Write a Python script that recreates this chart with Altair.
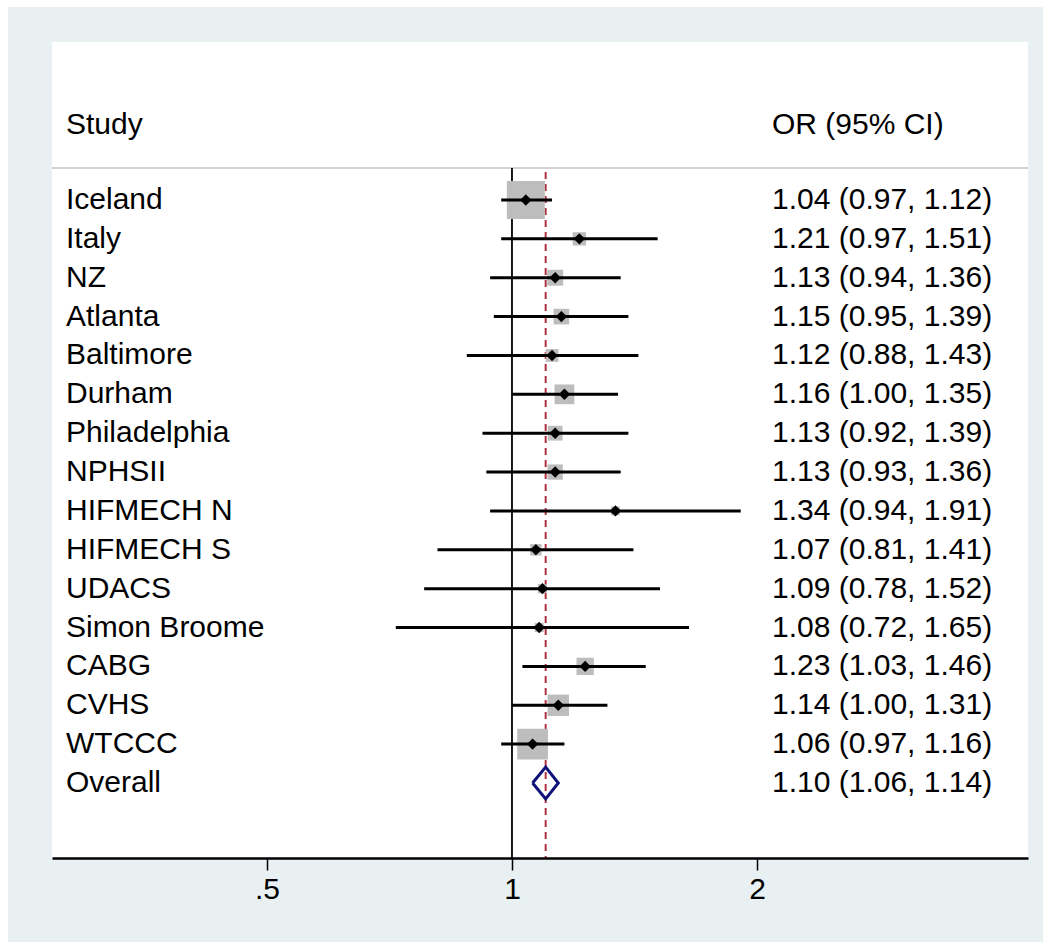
import altair as alt
import pandas as pd

studies = ["Iceland", "Italy", "NZ", "Atlanta", "Baltimore", "Durham", "Philadelphia",
           "NPHSII", "HIFMECH N", "HIFMECH S", "UDACS", "Simon Broome", "CABG", "CVHS", "WTCCC"]
odds = [1.04, 1.21, 1.13, 1.15, 1.12, 1.16, 1.13, 1.13, 1.34, 1.07, 1.09, 1.08, 1.23, 1.14, 1.06]
ci_low = [0.97, 0.97, 0.94, 0.95, 0.88, 1.00, 0.92, 0.93, 0.94, 0.81, 0.78, 0.72, 1.03, 1.00, 0.97]
ci_high = [1.12, 1.51, 1.36, 1.39, 1.43, 1.35, 1.39, 1.36, 1.91, 1.41, 1.52, 1.65, 1.46, 1.31, 1.16]
weights = [27.8, 3.4, 4.9, 4.7, 3.1, 7.5, 4.2, 4.5, 1.5, 2.5, 1.6, 1.6, 5.8, 8.8, 18.2]

overall_label = "Overall"
overall_or = 1.10
overall_low = 1.06
overall_high = 1.14

header_left = "Study"
header_right = "OR (95% CI)"
tick_values = [0.5, 1, 2]

FONT = "Liberation Sans"
FS = 30
W, H = 976, 816
BG = "#E8F0F2"

df = pd.DataFrame({
    "study": studies, "or": odds, "lo": ci_low, "hi": ci_high, "w": weights,
    "row": list(range(len(studies))),
})
df["label"] = [f"{o:.2f} ({l:.2f}, {h:.2f})" for o, l, h in zip(odds, ci_low, ci_high)]

n = len(studies)
ov_row = n
labels_df = pd.concat([
    df[["study", "label", "row"]],
    pd.DataFrame({"study": [overall_label],
                  "label": [f"{overall_or:.2f} ({overall_low:.2f}, {overall_high:.2f})"],
                  "row": [ov_row]}),
], ignore_index=True)

half_h = 0.41
diamond_df = pd.DataFrame({
    "x": [overall_low, overall_or, overall_high, overall_or, overall_low],
    "y": [ov_row, ov_row - half_h, ov_row, ov_row + half_h, ov_row],
    "o": [0, 1, 2, 3, 4],
})
ov_df = pd.DataFrame({"or": [overall_or]})

y_top, y_bot = -4.065, 16.93
header_row = -1.93
line_row = -0.82

xscale = alt.Scale(type="log", domain=[0.2722, 4.305], nice=False)
yscale = alt.Scale(domain=[y_top, y_bot], reverse=True, nice=False, zero=False)
xaxis = alt.Axis(values=tick_values, grid=False, zindex=2,
                 labelExpr="datum.value == 0.5 ? '.5' : format(datum.value, 'd')",
                 domainColor="black", domainWidth=2.5, tickColor="black", tickWidth=1.5,
                 tickSize=12, labelFont=FONT, labelFontSize=FS, labelColor="black",
                 labelPadding=4, title=None, labelFlush=False, labelOverlap=False)

base = alt.Chart(df)

bg_outer = alt.Chart(pd.DataFrame({"a": [0]})).mark_rect(color=BG, clip=False).encode(
    x=alt.value(-44), x2=alt.value(991), y=alt.value(-35), y2=alt.value(900))
bg_inner = alt.Chart(pd.DataFrame({"a": [0]})).mark_rect(color="white", clip=False).encode(
    x=alt.value(0), x2=alt.value(W), y=alt.value(0), y2=alt.value(H))

header_line = alt.Chart(pd.DataFrame({"r": [line_row]})).mark_rule(
    color="#C4C4C4", strokeWidth=1.5).encode(
    x=alt.value(0), x2=alt.value(W), y=alt.Y("r:Q", scale=yscale, axis=None))

null_line = alt.Chart(pd.DataFrame({"x": [1.0], "r": [line_row], "r2": [y_bot]})).mark_rule(
    color="black", strokeWidth=1.8).encode(
    x=alt.X("x:Q", scale=xscale, axis=xaxis),
    y=alt.Y("r:Q", scale=yscale, axis=None), y2="r2:Q")

boxes = base.mark_square(color="#BDBDBD", opacity=1).encode(
    x=alt.X("or:Q", scale=xscale, axis=xaxis),
    y=alt.Y("row:Q", scale=yscale, axis=None),
    size=alt.Size("w:Q", scale=alt.Scale(domain=[0, 27.8], range=[0, 1444]), legend=None))

ci = base.mark_rule(color="black", strokeWidth=3).encode(
    x=alt.X("lo:Q", scale=xscale, axis=xaxis), x2="hi:Q",
    y=alt.Y("row:Q", scale=yscale, axis=None))

pts = base.mark_point(shape="diamond", filled=True, color="black", size=130, opacity=1).encode(
    x=alt.X("or:Q", scale=xscale, axis=xaxis),
    y=alt.Y("row:Q", scale=yscale, axis=None))

ov_line = alt.Chart(ov_df).transform_calculate(r=str(line_row + 0.1), r2=str(y_bot)).mark_rule(
    color="#B03040", strokeWidth=2, strokeDash=[7, 5]).encode(
    x=alt.X("or:Q", scale=xscale, axis=xaxis),
    y=alt.Y("r:Q", scale=yscale, axis=None), y2="r2:Q")

diamond = alt.Chart(diamond_df).mark_line(color="#10127A", strokeWidth=3, strokeJoin="miter").encode(
    x=alt.X("x:Q", scale=xscale, axis=xaxis),
    y=alt.Y("y:Q", scale=yscale, axis=None),
    order="o:Q")

names = alt.Chart(labels_df).mark_text(align="left", baseline="middle", font=FONT,
                                       fontSize=FS, color="black").encode(
    x=alt.value(14), y=alt.Y("row:Q", scale=yscale, axis=None), text="study:N")
vals = alt.Chart(labels_df).mark_text(align="left", baseline="middle", font=FONT,
                                      fontSize=FS, color="black").encode(
    x=alt.value(720), y=alt.Y("row:Q", scale=yscale, axis=None), text="label:N")

hdr_df = pd.DataFrame({"left": [header_left], "right": [header_right], "r": [header_row]})
hdr_left = alt.Chart(hdr_df).mark_text(align="left", baseline="middle", font=FONT,
                                       fontSize=FS, color="black").encode(
    x=alt.value(14), y=alt.Y("r:Q", scale=yscale, axis=None), text="left:N")
hdr_right = alt.Chart(hdr_df).mark_text(align="left", baseline="middle", font=FONT,
                                        fontSize=FS, color="black").encode(
    x=alt.value(720), y=alt.Y("r:Q", scale=yscale, axis=None), text="right:N")

chart = alt.layer(
    bg_outer, bg_inner, header_line, null_line, ov_line, boxes, ci, pts, diamond,
    names, vals, hdr_left, hdr_right
).properties(
    width=W, height=H,
    autosize=alt.AutoSizeParams(type="none"),
    padding={"left": 52, "top": 42, "right": 22, "bottom": 91},
    background="white",
).configure_view(stroke=None, fill=None)

chart.save("out.html", embed_options={"renderer": "svg", "actions": False})
